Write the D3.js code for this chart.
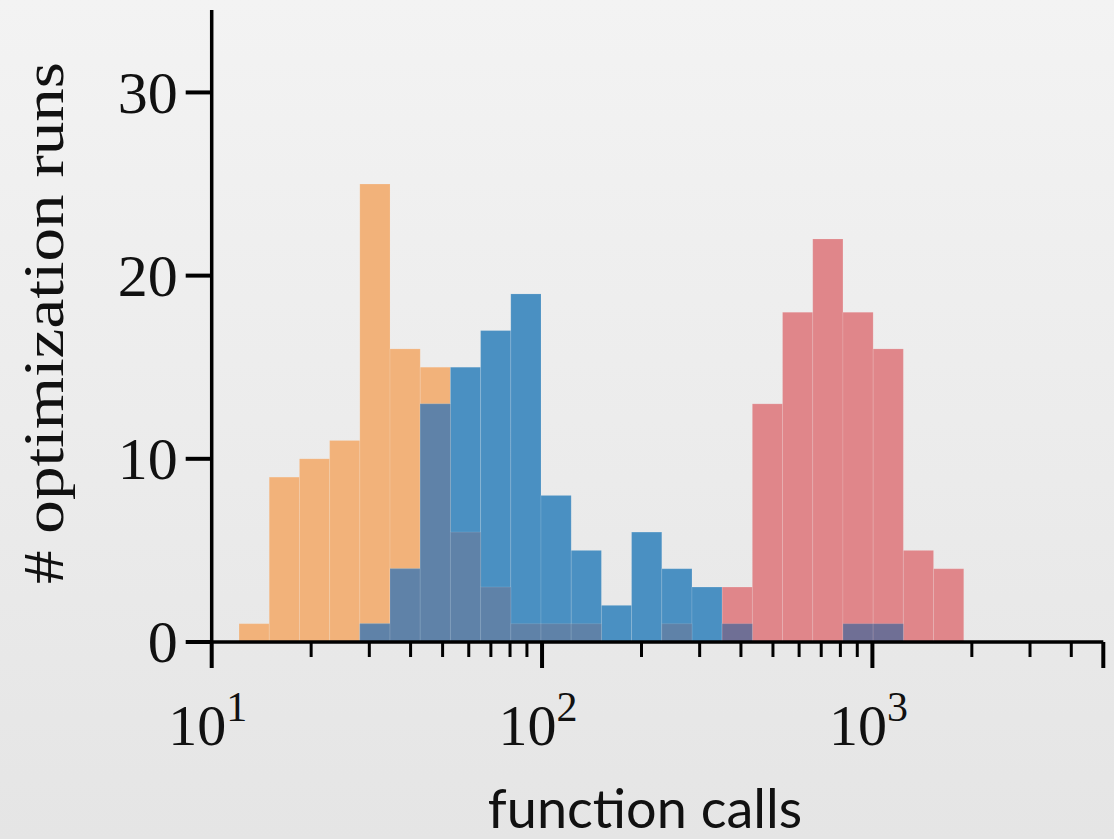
<!DOCTYPE html>
<html>
<head>
<meta charset="utf-8">
<script src="https://cdn.jsdelivr.net/npm/d3@7"></script>
<style>
  html, body { margin: 0; padding: 0; }
  svg { display: block; }
</style>
</head>
<body>
<div id="chart"></div>
<script>
// histogram counts per log-spaced bin (24 bins, shared by all three runs)
const binLo = 12.1;
const binHi = 1890;
const nBins = 24;
const orangeCounts = [1, 9, 10, 11, 25, 16, 15, 6, 3, 1, 1, 1, 0, 0, 1, 0, 0, 0, 0, 0, 0, 0, 0, 0];
const blueCounts   = [0, 0, 0, 0, 1, 4, 13, 15, 17, 19, 8, 5, 2, 6, 4, 3, 1, 0, 0, 0, 1, 1, 0, 0];
const redCounts    = [0, 0, 0, 0, 0, 0, 0, 0, 0, 0, 0, 0, 0, 0, 0, 0, 3, 13, 18, 22, 18, 16, 5, 4];
const yTicks = [0, 10, 20, 30];
const xMajor = [10, 100, 1000];
const xMinor = [20, 30, 40, 50, 60, 70, 80, 90, 200, 300, 400, 500, 600, 700, 800, 900, 2000, 3000, 4000];

class Histogram {
  constructor(element, width, height, margin) {
    this.element = element;
    this.width = width;
    this.height = height;
    this.margin = margin;
    this.draw();
  }

  draw() {
    const svg = d3.select(this.element).append("svg")
      .attr("width", this.width)
      .attr("height", this.height);

    // soft grey backdrop
    const grad = svg.append("defs").append("linearGradient")
      .attr("id", "bg").attr("x1", 0).attr("y1", 0).attr("x2", 0).attr("y2", 1);
    grad.append("stop").attr("offset", "0%").attr("stop-color", "#f3f3f3");
    grad.append("stop").attr("offset", "100%").attr("stop-color", "#e5e5e5");
    svg.append("rect").attr("width", this.width).attr("height", this.height).attr("fill", "url(#bg)");

    this.svg = svg;
    this.createScales();
    this.drawBars();
    this.drawAxis();
    this.drawLabels();
  }

  createScales() {
    this.x = d3.scaleLog()
      .domain([10, 5000])
      .range([this.margin.left, this.width - this.margin.right]);
    this.y = d3.scaleLinear()
      .domain([0, 34.5])
      .range([this.height - this.margin.bottom, this.margin.top]);

    const step = Math.log10(binHi / binLo) / nBins;
    this.edges = d3.range(nBins + 1).map(i => binLo * Math.pow(10, i * step));
  }

  drawBars() {
    const g = this.svg.append("g");
    const rows = d3.range(nBins).map(i => ({
      x0: this.edges[i],
      x1: this.edges[i + 1],
      orange: orangeCounts[i],
      blue: blueCounts[i],
      red: redCounts[i],
      ob: Math.min(orangeCounts[i], blueCounts[i]),
      br: Math.min(blueCounts[i], redCounts[i])
    }));

    // base bars, then the overlap tints on top
    const layers = [
      ["orange", "#f2b27a"],
      ["blue", "#4a90c2"],
      ["red", "#e0868a"],
      ["ob", "#5f82a8"],
      ["br", "#6f6f95"]
    ];

    layers.forEach(([key, color]) => {
      g.append("g")
        .selectAll("rect")
        .data(rows.filter(d => d[key] > 0))
        .join("rect")
        .attr("x", d => this.x(d.x0))
        .attr("width", d => this.x(d.x1) - this.x(d.x0))
        .attr("y", d => this.y(d[key]))
        .attr("height", d => this.y(0) - this.y(d[key]))
        .attr("fill", color)
        .attr("stroke", "rgba(255,255,255,0.12)")
        .attr("stroke-width", 1);
    });
  }

  drawAxis() {
    const x0 = this.x(10);
    const y0 = this.y(0);

    // x axis
    const gx = this.svg.append("g").attr("transform", `translate(0,${y0})`);
    gx.append("line")
      .attr("x1", this.x(10)).attr("x2", this.x(5000))
      .attr("stroke", "#000").attr("stroke-width", 3.5);
    gx.selectAll(".major").data(xMajor.concat([5000])).join("line")
      .attr("x1", d => this.x(d)).attr("x2", d => this.x(d))
      .attr("y1", 0).attr("y2", 26)
      .attr("stroke", "#000").attr("stroke-width", 4);
    gx.selectAll(".minor").data(xMinor).join("line")
      .attr("x1", d => this.x(d)).attr("x2", d => this.x(d))
      .attr("y1", 0).attr("y2", 15)
      .attr("stroke", "#000").attr("stroke-width", 3);

    const lbl = gx.selectAll(".lbl").data(xMajor).join("text")
      .attr("x", d => this.x(d) - 4)
      .attr("y", 103)
      .attr("text-anchor", "middle")
      .attr("font-family", "'Liberation Serif', serif")
      .attr("font-size", 58)
      .attr("fill", "#111");
    lbl.append("tspan").text("10");
    lbl.append("tspan").attr("dy", -24).attr("font-size", 42).text(d => Math.round(Math.log10(d)));

    // y axis
    const gy = this.svg.append("g").attr("transform", `translate(${x0},0)`);
    gy.append("line")
      .attr("y1", this.margin.top).attr("y2", y0)
      .attr("stroke", "#000").attr("stroke-width", 3.5);
    gy.selectAll(".tick").data(yTicks).join("line")
      .attr("x1", -26).attr("x2", 0)
      .attr("y1", d => this.y(d)).attr("y2", d => this.y(d))
      .attr("stroke", "#000").attr("stroke-width", 4);
    gy.selectAll(".lbl").data(yTicks).join("text")
      .attr("x", -34)
      .attr("y", d => this.y(d))
      .attr("dy", "0.34em")
      .attr("text-anchor", "end")
      .attr("font-family", "'Liberation Serif', serif")
      .attr("font-size", 60)
      .attr("fill", "#111")
      .text(d => d);
  }

  drawLabels() {
    this.svg.append("text")
      .attr("transform", `translate(63,323) rotate(-90)`)
      .attr("text-anchor", "middle")
      .attr("font-family", "'Liberation Serif', serif")
      .attr("font-size", 58)
      .attr("textLength", 522)
      .attr("lengthAdjust", "spacingAndGlyphs")
      .attr("fill", "#111")
      .text("# optimization runs");

    this.svg.append("text")
      .attr("x", 645)
      .attr("y", 828)
      .attr("text-anchor", "middle")
      .attr("font-family", "Lato, sans-serif")
      .attr("font-size", 54)
      .attr("fill", "#111")
      .text("function calls");
  }
}

new Histogram(document.getElementById("chart"), 1114, 839, { top: 10, right: 10.7, bottom: 197, left: 211.7 });
</script>
</body>
</html>
